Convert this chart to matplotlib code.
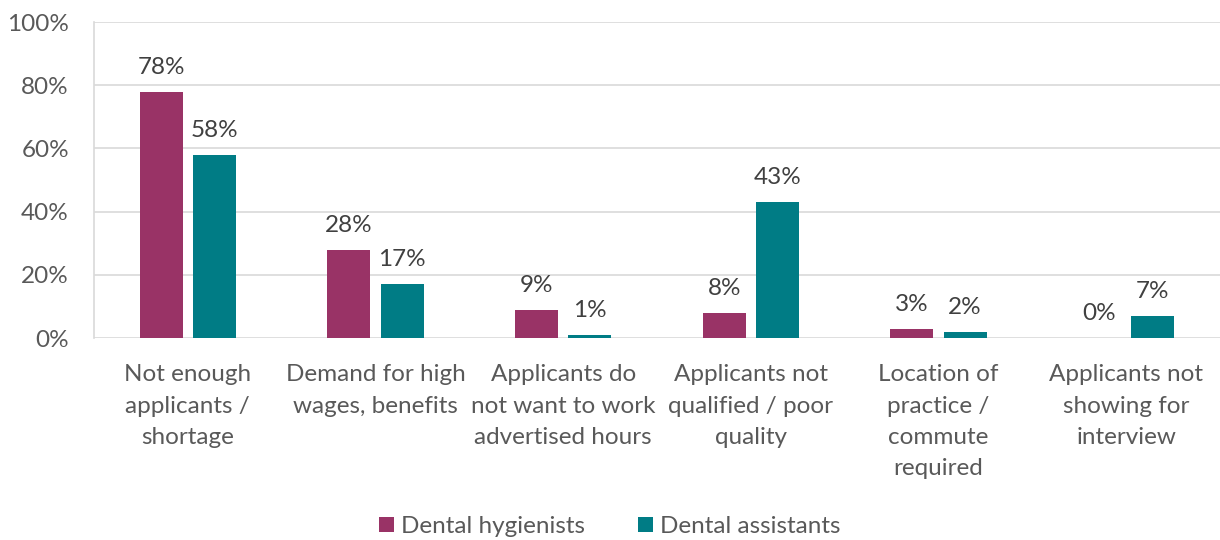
import numpy as np
from matplotlib import pyplot as plt

categories = ['Not enough\napplicants /\nshortage',
              'Demand for high\nwages, benefits',
              'Applicants do\nnot want to work\nadvertised hours',
              'Applicants not\nqualified / poor\nquality',
              'Location of\npractice /\ncommute\nrequired',
              'Applicants not\nshowing for\ninterview']
hygienists = [78, 28, 9, 8, 3, 0]
assistants = [58, 17, 1, 43, 2, 7]
hyg_labels = ['78%', '28%', '9%', '8%', '3%', '0%']
ast_labels = ['58%', '17%', '1%', '43%', '2%', '7%']

plt.rcParams['font.family'] = ['Lato', 'DejaVu Sans']
fs = 17.5

fig = plt.figure(figsize=(12.2, 5.4), dpi=100)
ax = fig.add_axes([0.077, 0.374, 0.923, 0.585])

x = np.arange(len(categories))
w = 0.229
off = 0.142
b1 = ax.bar(x - off, hygienists, w, color='#993366', label='Dental hygienists', zorder=3)
b2 = ax.bar(x + off, assistants, w, color='#007C85', label='Dental assistants', zorder=3)
ax.bar_label(b1, labels=hyg_labels, padding=10, fontsize=fs, color='#404040')
ax.bar_label(b2, labels=ast_labels, padding=10, fontsize=fs, color='#404040')

ax.set_xlim(-0.5, len(categories) - 0.5)
ax.set_ylim(0, 100)
ax.set_yticks(range(0, 101, 20))
ax.set_yticklabels([f'{v}%' for v in range(0, 101, 20)])
ax.set_xticks(x)
ax.set_xticklabels(categories, linespacing=1.6)
ax.tick_params(axis='both', length=0, labelsize=fs, labelcolor='#595959')
ax.tick_params(axis='x', pad=19)
ax.tick_params(axis='y', pad=18)
ax.grid(axis='y', color='#d9d9d9', linewidth=1.2, zorder=0)
for s in ['top', 'right', 'bottom']:
    ax.spines[s].set_visible(False)
ax.spines['left'].set_color('#d9d9d9')
ax.spines['left'].set_linewidth(1.2)

fig.legend(loc='lower center', bbox_to_anchor=(0.5, -0.035), ncol=2, frameon=False,
           fontsize=fs, labelcolor='#595959', handlelength=0.6, handleheight=0.6,
           handletextpad=0.3, columnspacing=2.2)

plt.savefig('out.png')
